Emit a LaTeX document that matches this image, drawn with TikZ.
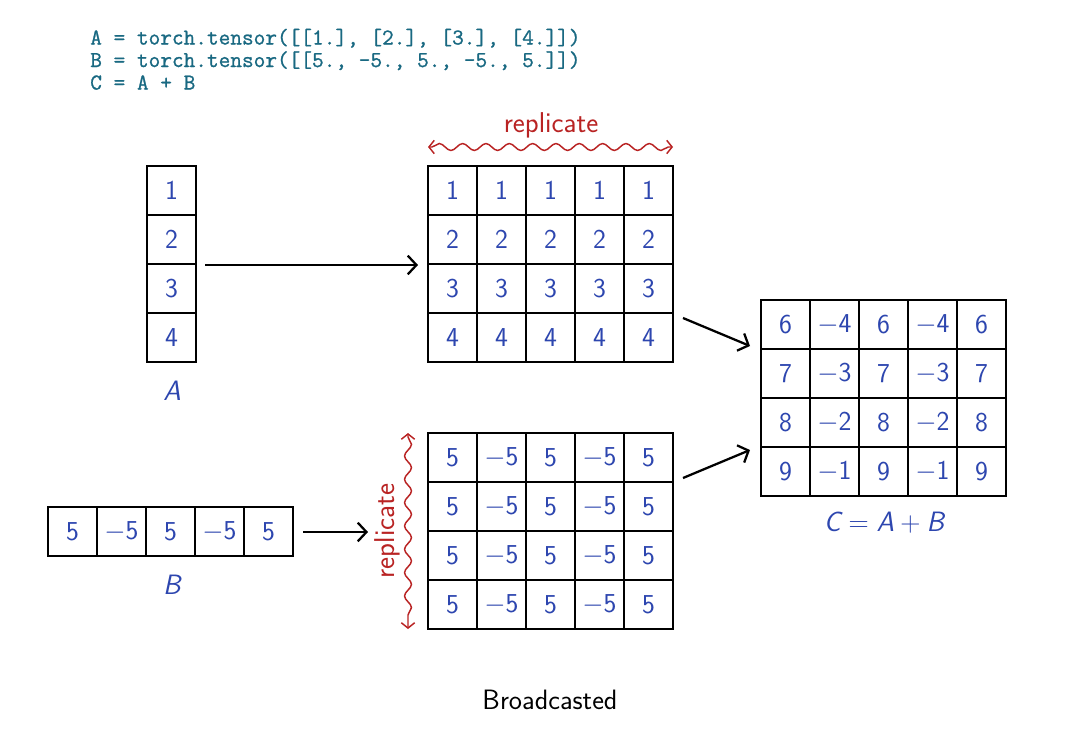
\RequirePackage{fix-cm}
\documentclass[tikz,border=0pt]{standalone}
\usepackage{fontspec}
\newfontfamily\codefont{Latin Modern Mono}[FakeBold=1]
\usetikzlibrary{arrows.meta,decorations.pathmorphing}
\definecolor{codecol}{RGB}{25,105,130}
\definecolor{numblue}{RGB}{45,70,175}
\definecolor{repred}{RGB}{185,35,35}
\tikzset{
  cell/.style={draw=black, line width=0.85pt, minimum width=36.75pt, minimum height=36.75pt,
    inner sep=0pt, text=numblue, font=\sffamily\fontsize{20.5}{24}\selectfont},
  codeline/.style={anchor=base west, text=codecol, inner sep=0pt, font=\codefont\fontsize{17}{20}\selectfont},
  lbl/.style={text=numblue, inner sep=0pt, font=\sffamily\slshape\fontsize{21}{24}\selectfont},
  bigarrow/.style={line width=1.7pt, -{Straight Barb[length=6.5pt,width=14pt,line width=1.7pt]}},
  wavy/.style={draw=repred, line width=1.1pt, {Straight Barb[length=4pt,width=10pt]}-{Straight Barb[length=4pt,width=10pt]},
    decoration={snake, amplitude=2.6pt, segment length=17.5pt, pre length=3pt, post length=3pt}, decorate},
  replbl/.style={text=repred, inner sep=0pt, font=\sffamily\fontsize{21.5}{24}\selectfont},
}
\begin{document}
\begin{tikzpicture}[x=0.75pt,y=-0.75pt]
\useasboundingbox[fill=white] (0,0) rectangle (1071,740);
% code
\node[codeline] (l1) at (90,44.5) {A = torch.tensor([[1.], [2.], [3.], [4.]])};
\node[codeline] (l2) at (90,67) {B = torch.tensor([[5., -5., 5., -5., 5.]])};
\node[codeline] (l3) at (90,89.5) {C = A + B};
% A column
\foreach \r in {1,...,4} {
  \node[cell] (A-\r) at (171.5, {166+24.5+49*(\r-1)}) {\r};
}
\node[lbl] (Alab) at (172,391) {A};
% replicated A
\foreach \r in {1,...,4} {
  \foreach \c in {1,...,5} {
    \node[cell] (RA-\r-\c) at ({428+24.5+49*(\c-1)}, {166+24.5+49*(\r-1)}) {\r};
  }
}
% B row
\foreach \c in {1,...,5} {
  \node[cell] (B-\c) at ({48+24.5+49*(\c-1)}, 531.5) {\ifodd\c\relax 5\else$-$5\fi};
}
\node[lbl] (Blab) at (172,585) {B};
% replicated B
\foreach \r in {1,...,4} {
  \foreach \c in {1,...,5} {
    \node[cell] (RB-\r-\c) at ({428+24.5+49*(\c-1)}, {433+24.5+49*(\r-1)}) {\ifodd\c\relax 5\else$-$5\fi};
  }
}
% C
\foreach \r in {1,...,4} {
  \foreach \c in {1,...,5} {
    \pgfmathtruncatemacro\vp{\r+5}
    \pgfmathtruncatemacro\vm{5-\r}
    \node[cell] (C-\r-\c) at ({761+24.5+49*(\c-1)}, {300+24.5+49*(\r-1)}) {\ifodd\c\relax \vp\else$-$\vm\fi};
  }
}
\node[lbl] (Clab) at (884,523) {C\hspace{0.28em}\upshape$=$\hspace{0.28em}\slshape A\hspace{0.22em}\upshape$+$\hspace{0.22em}\slshape B};
% replicate markers
\coordinate (t1) at (428,147);
\coordinate (t2) at (673,147);
\draw[wavy] (t1) -- (t2);
\node[replbl] (rt) at (551,125) {replicate};
\coordinate (v1) at (408,433);
\coordinate (v2) at (408,629);
\draw[wavy] (v1) -- (v2);
\node[replbl, rotate=90] (rv) at (387,531) {replicate};
% arrows
\coordinate (a1s) at (205,265);
\coordinate (a1e) at (418,265);
\draw[bigarrow] (a1s) -- (a1e);
\coordinate (a2s) at (303,532);
\coordinate (a2e) at (368,532);
\draw[bigarrow] (a2s) -- (a2e);
\coordinate (a3s) at (683,318);
\coordinate (a3e) at (750,346);
\draw[bigarrow] (a3s) -- (a3e);
\coordinate (a4s) at (683,478);
\coordinate (a4e) at (750,450);
\draw[bigarrow] (a4s) -- (a4e);
% caption
\node[inner sep=0pt, font=\sffamily\fontsize{21}{24}\selectfont] (cap) at (550,700) {Broadcasted};
\end{tikzpicture}
\end{document}
